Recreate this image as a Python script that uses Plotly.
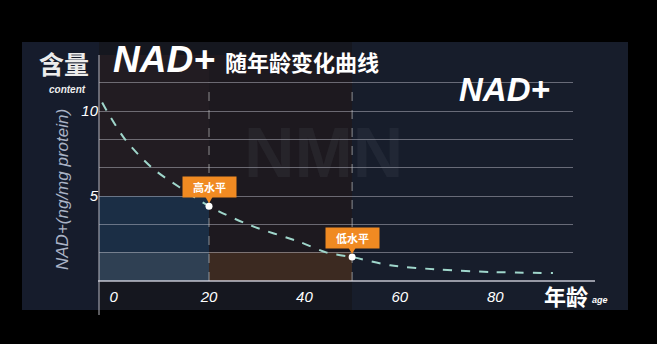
import plotly.graph_objects as go

# ---- data ----
age = [-2.4, -1.4, 2.4, 8.0, 13.9, 20.0, 28.6, 39.0, 44.7, 50.0, 58.0, 68.4, 78.9, 92.1]
nad = [10.5, 10.0, 8.33, 6.67, 5.5, 4.4, 3.28, 2.3, 1.67, 1.41, 0.92, 0.67, 0.53, 0.47]
key_ages = [20, 50]
key_values = [4.4, 1.41]
key_labels = ["高水平", "低水平"]
x_ticks = [0, 20, 40, 60, 80]
y_grid = [0, 5/3, 10/3, 5, 20/3, 25/3, 10, 35/3]
y_ticklabels = ["", "", "", "5", "", "", "10", ""]

W, H = 657, 344
L, R, T, B = 99, 573, 55, 281  # plot area in pixels


def px(x):
    return (x - L) / (R - L)


def py(y):
    return (B - y) / (B - T)


FONT = "Liberation Sans, Arial, Noto Sans CJK SC, sans-serif"
CJK = "Noto Sans CJK SC, sans-serif"
ORANGE = "#F08A22"

fig = go.Figure()

fig.add_trace(go.Scatter(
    x=age, y=nad, mode="lines",
    line=dict(color="#9fd6cb", width=2, dash="dash", shape="spline", smoothing=0.8),
    hoverinfo="skip", showlegend=False,
))
fig.add_trace(go.Scatter(
    x=key_ages, y=key_values, mode="markers",
    marker=dict(color="white", size=7),
    hoverinfo="skip", showlegend=False,
))

shapes = []
# dark panel
shapes.append(dict(type="rect", xref="paper", yref="paper", layer="below",
                   x0=px(22), x1=px(628), y0=py(310), y1=py(42),
                   fillcolor="#15171f", line=dict(width=0)))
# tinted regions of the blurred background
tints = [
    (22, 99, 42, 310, "rgba(25,35,60,0.45)"),
    (99, 209, 55, 196, "rgba(60,38,40,0.35)"),
    (99, 209, 196, 281, "rgba(35,75,115,0.45)"),
    (99, 209, 252, 281, "rgba(95,105,115,0.30)"),
    (209, 352, 55, 252, "rgba(45,30,32,0.35)"),
    (209, 352, 252, 281, "rgba(120,72,38,0.40)"),
    (352, 628, 42, 310, "rgba(28,40,62,0.40)"),
]
for x0, x1, y0, y1, c in tints:
    shapes.append(dict(type="rect", xref="paper", yref="paper", layer="below",
                       x0=px(x0), x1=px(x1), y0=py(y1), y1=py(y0),
                       fillcolor=c, line=dict(width=0)))
# dashed guide lines at key ages
for a in key_ages:
    shapes.append(dict(type="line", xref="x", yref="y", layer="below",
                       x0=a, x1=a, y0=0, y1=y_grid[-1],
                       line=dict(color="rgba(200,200,200,0.55)", width=1.2, dash="dash")))
# axis lines (extend beyond the grid like the reference)
shapes.append(dict(type="line", xref="paper", yref="paper",
                   x0=px(98), x1=px(595), y0=0, y1=0,
                   line=dict(color="rgba(225,225,235,0.85)", width=1.5)))
shapes.append(dict(type="line", xref="paper", yref="paper",
                   x0=0, x1=0, y0=py(315), y1=1,
                   line=dict(color="rgba(200,200,210,0.6)", width=1.5)))
# small pointers under the callouts
for a, v in zip(key_ages, key_values):
    shapes.append(dict(type="path", xref="x", yref="y", xsizemode="pixel", ysizemode="pixel",
                       xanchor=a, yanchor=v, path="M -4 10 L 4 10 L 0 3 Z",
                       fillcolor=ORANGE, line=dict(width=0)))

ann = []
# faint blurred "NMN" in the background
ann.append(dict(xref="paper", yref="paper", x=px(323), y=py(153), text="NMN",
                showarrow=False, font=dict(family=FONT, size=70, color="rgba(150,160,180,0.08)", weight="bold")))
# titles
ann.append(dict(xref="paper", yref="paper", x=px(111), y=py(59), xanchor="left", yanchor="middle",
                text="NAD+", showarrow=False,
                font=dict(family=FONT, size=37, color="white", weight="bold", style="italic")))
ann.append(dict(xref="paper", yref="paper", x=px(223), y=py(61), xanchor="left", yanchor="middle",
                text="随年龄变化曲线", showarrow=False,
                font=dict(family=CJK, size=22, color="white", weight="bold")))
ann.append(dict(xref="paper", yref="paper", x=px(64), y=py(63), xanchor="center", yanchor="middle",
                text="含量", showarrow=False,
                font=dict(family=CJK, size=25, color="#ececec", weight="bold")))
ann.append(dict(xref="paper", yref="paper", x=px(67), y=py(89), xanchor="center", yanchor="middle",
                text="content", showarrow=False,
                font=dict(family=FONT, size=10, color="#ececec", weight="bold", style="italic")))
ann.append(dict(xref="paper", yref="paper", x=px(457), y=py(89), xanchor="left", yanchor="middle",
                text="NAD+", showarrow=False,
                font=dict(family=FONT, size=33, color="white", weight="bold", style="italic")))
ann.append(dict(xref="paper", yref="paper", x=px(63), y=py(190), xanchor="center", yanchor="middle",
                text="NAD+(ng/mg protein)", textangle=-90, showarrow=False,
                font=dict(family=FONT, size=17, color="#aab3c6", style="italic")))
ann.append(dict(xref="paper", yref="paper", x=px(542), y=py(295), xanchor="left", yanchor="middle",
                text="年龄", showarrow=False,
                font=dict(family=CJK, size=22, color="white", weight="bold")))
ann.append(dict(xref="paper", yref="paper", x=px(590), y=py(300), xanchor="left", yanchor="middle",
                text="age", showarrow=False,
                font=dict(family=FONT, size=9, color="white", weight="bold", style="italic")))
# orange callouts
for a, v, lab in zip(key_ages, key_values, key_labels):
    ann.append(dict(x=a, y=v, xref="x", yref="y", text=lab, showarrow=False,
                    yshift=19, width=51, height=18, bgcolor=ORANGE, borderpad=1,
                    font=dict(family=CJK, size=11, color="white", weight="bold")))

fig.update_layout(
    width=W, height=H,
    margin=dict(l=L, r=W - R, t=T, b=H - B),
    paper_bgcolor="black", plot_bgcolor="rgba(0,0,0,0)",
    shapes=shapes, annotations=ann,
    xaxis=dict(range=[-3.06, 96.3], tickvals=x_ticks, showgrid=False, zeroline=False,
               showline=False, ticks="", ticklabelstandoff=5,
               tickfont=dict(family=FONT, size=15, color="white", style="italic"),
               fixedrange=True),
    yaxis=dict(range=[0, (B - T) / 17], tickvals=y_grid, ticktext=y_ticklabels,
               showgrid=True, gridcolor="rgba(205,205,215,0.45)", gridwidth=1,
               zeroline=False, showline=False, ticks="",
               tickfont=dict(family=FONT, size=15, color="white", style="italic"),
               fixedrange=True),
)

fig.write_html("out.html")
